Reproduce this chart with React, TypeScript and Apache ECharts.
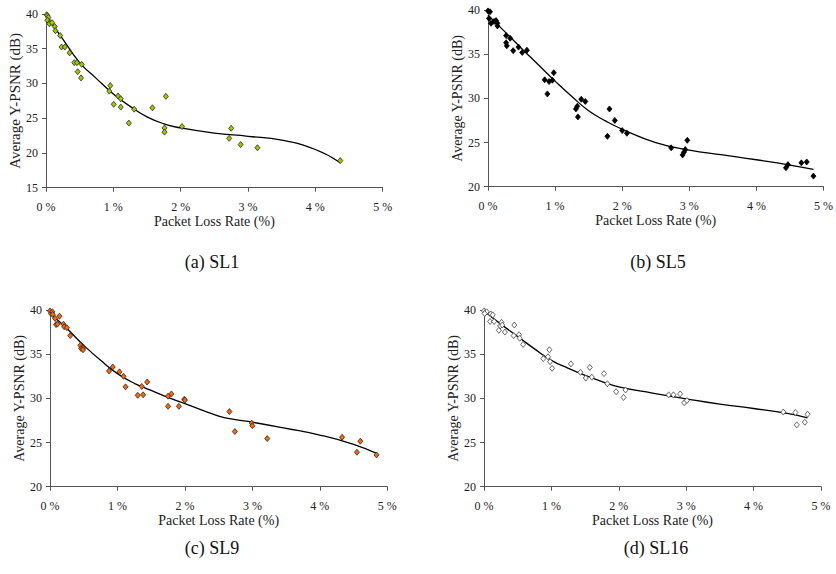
import React, { useEffect, useRef } from "react";
import * as echarts from "echarts";

// ---- data ----
const sl1Loss = [0.01, 0.02, 0.035, 0.02, 0.06, 0.05, 0.09, 0.13, 0.14, 0.21, 0.23, 0.28, 0.35, 0.42, 0.46, 0.53, 0.47, 0.52, 0.955, 0.94, 1.07, 1.11, 1.005, 1.11, 1.31, 1.23, 1.58, 1.78, 1.76, 1.76, 2.02, 2.72, 2.75, 2.89, 3.14, 4.37];
const sl1Psnr = [39.9, 39.75, 39.5, 39.1, 38.8, 38.6, 38.75, 38.2, 37.6, 36.9, 35.25, 35.25, 34.4, 33.0, 33.0, 32.75, 31.7, 30.8, 29.7, 28.9, 28.2, 27.8, 27.0, 26.6, 26.3, 24.3, 26.5, 28.15, 23.6, 23.0, 23.8, 22.1, 23.55, 21.2, 20.75, 18.9];
const sl1TrendLoss = [0, 0.25, 0.5, 0.75, 1.0, 1.25, 1.5, 1.75, 2.0, 2.5, 3.0, 3.5, 4.0, 4.37];
const sl1TrendPsnr = [39.8, 36.4, 33.0, 30.7, 28.5, 26.7, 25.2, 24.2, 23.6, 22.85, 22.4, 21.85, 20.5, 18.6];

const sl5Loss = [0, 0.03, 0.015, 0.045, 0.09, 0.12, 0.14, 0.14, 0.27, 0.27, 0.28, 0.33, 0.375, 0.455, 0.51, 0.58, 0.845, 0.91, 0.96, 0.98, 0.885, 1.31, 1.33, 1.34, 1.39, 1.45, 1.81, 1.89, 1.78, 2.0, 2.07, 2.73, 2.9, 2.92, 2.94, 2.97, 4.44, 4.47, 4.67, 4.75, 4.85];
const sl5Psnr = [39.9, 39.8, 39.05, 38.5, 38.7, 38.8, 38.5, 38.2, 37.1, 36.3, 35.95, 36.8, 35.4, 35.8, 35.2, 35.45, 32.1, 31.9, 32.05, 32.9, 30.5, 28.8, 29.1, 27.9, 29.9, 29.65, 28.8, 27.5, 25.7, 26.35, 26.05, 24.4, 23.6, 23.9, 24.2, 25.25, 22.15, 22.5, 22.7, 22.8, 21.2];
const sl5TrendLoss = [0, 0.25, 0.5, 0.75, 1.0, 1.25, 1.5, 1.75, 2.0, 2.5, 3.0, 3.5, 4.0, 4.5, 4.85];
const sl5TrendPsnr = [39.4, 37.55, 35.65, 33.8, 31.95, 30.2, 28.6, 27.45, 26.5, 25.0, 24.15, 23.6, 23.05, 22.45, 21.95];

const sl9Loss = [0, 0.015, 0.035, 0.04, 0.075, 0.09, 0.11, 0.14, 0.2, 0.21, 0.25, 0.3, 0.45, 0.46, 0.49, 0.49, 0.875, 0.93, 1.03, 1.09, 1.12, 1.3, 1.36, 1.38, 1.44, 1.75, 1.8, 1.75, 1.91, 1.99, 2.0, 2.66, 2.74, 2.99, 3.0, 3.22, 4.33, 4.55, 4.6, 4.84];
const sl9Psnr = [39.9, 39.6, 39.8, 39.5, 39.05, 38.35, 38.4, 39.3, 38.4, 38.1, 38.0, 37.1, 36.0, 35.65, 35.7, 35.5, 33.1, 33.55, 33.0, 32.5, 31.3, 30.35, 31.35, 30.4, 31.85, 30.25, 30.5, 29.1, 29.1, 29.9, 29.8, 28.5, 26.25, 27.2, 26.9, 25.45, 25.6, 23.9, 25.15, 23.6];
const sl9TrendLoss = [0, 0.25, 0.5, 0.75, 1.0, 1.25, 1.5, 1.75, 2.0, 2.5, 2.75, 3.0, 3.5, 4.0, 4.5, 4.85];
const sl9TrendPsnr = [39.6, 37.9, 36.0, 34.3, 32.8, 31.7, 30.9, 30.1, 29.4, 28.0, 27.6, 27.3, 26.6, 25.85, 24.8, 23.75];

const sl16Loss = [0, 0.02, 0.04, 0.01, 0.09, 0.1, 0.13, 0.15, 0.22, 0.24, 0.26, 0.27, 0.31, 0.44, 0.45, 0.52, 0.53, 0.58, 0.88, 0.95, 0.97, 0.98, 1.01, 1.29, 1.43, 1.51, 1.57, 1.6, 1.78, 1.83, 1.96, 2.07, 2.1, 2.74, 2.81, 2.91, 2.97, 3.01, 4.44, 4.62, 4.64, 4.76, 4.8];
const sl16Psnr = [39.9, 39.7, 39.8, 39.6, 38.7, 39.55, 39.45, 38.7, 37.7, 38.2, 38.6, 38.3, 37.5, 37.1, 38.3, 37.2, 36.8, 36.1, 34.5, 34.7, 35.5, 34.15, 33.4, 33.9, 32.95, 32.3, 33.5, 32.4, 32.8, 31.65, 30.75, 30.1, 30.95, 30.4, 30.4, 30.5, 29.5, 29.75, 28.45, 28.4, 27.0, 27.3, 28.2];
const sl16TrendLoss = [0, 0.25, 0.5, 0.75, 1.0, 1.25, 1.5, 1.75, 2.0, 2.5, 3.0, 3.5, 4.0, 4.5, 4.8];
const sl16TrendPsnr = [39.9, 38.4, 37.0, 35.6, 34.3, 33.4, 32.6, 31.9, 31.3, 30.6, 29.95, 29.35, 28.85, 28.3, 27.8];

const xTicks = [0, 1, 2, 3, 4, 5];
const captions = ["(a) SL1", "(b) SL5", "(c) SL9", "(d) SL16"];
const markerFills = ["#99cc00", "#000000", "#ff6600", "#ffffff"];
const markerBorders = ["#2a2a2a", "#000000", "#2a2a2a", "#444444"];
const yMins = [15, 20, 20, 20];

const panels = [
  { loss: sl1Loss, psnr: sl1Psnr, tl: sl1TrendLoss, tp: sl1TrendPsnr },
  { loss: sl5Loss, psnr: sl5Psnr, tl: sl5TrendLoss, tp: sl5TrendPsnr },
  { loss: sl9Loss, psnr: sl9Psnr, tl: sl9TrendLoss, tp: sl9TrendPsnr },
  { loss: sl16Loss, psnr: sl16Psnr, tl: sl16TrendLoss, tp: sl16TrendPsnr },
];

// layout (pixels)
const grids = [
  { left: 46, top: 14, width: 336.7, height: 173.7 },
  { left: 488, top: 10, width: 337.3, height: 176.7 },
  { left: 50, top: 310, width: 337.3, height: 176.7 },
  { left: 484, top: 310, width: 337, height: 176.7 },
];
const captionPos = [
  [212, 262],
  [658, 262],
  [212, 548],
  [656, 548],
];

const FONT = "Liberation Serif";

export default function App() {
  const ref = useRef<HTMLDivElement>(null);
  useEffect(() => {
    if (!ref.current) return;
    const chart = echarts.init(ref.current, undefined, { renderer: "svg" });
    const xAxis: any[] = [];
    const yAxis: any[] = [];
    const series: any[] = [];
    panels.forEach((p, i) => {
      xAxis.push({
        gridIndex: i,
        type: "value",
        min: xTicks[0],
        max: xTicks[xTicks.length - 1],
        interval: 1,
        name: "Packet Loss Rate (%)",
        nameLocation: "middle",
        nameGap: 27,
        nameTextStyle: { fontFamily: FONT, fontSize: 14, color: "#222" },
        axisLine: { lineStyle: { color: "#555", width: 1 } },
        axisTick: { show: true, length: 4, lineStyle: { color: "#555" } },
        axisLabel: {
          fontFamily: FONT,
          fontSize: 12,
          color: "#222",
          margin: 13,
          formatter: (v: number) => `${v} %`,
        },
        splitLine: { show: false },
      });
      yAxis.push({
        gridIndex: i,
        type: "value",
        min: yMins[i],
        max: 40,
        interval: 5,
        name: "Average Y-PSNR (dB)",
        nameLocation: "middle",
        nameGap: 24,
        nameRotate: 90,
        nameTextStyle: { fontFamily: FONT, fontSize: i === 0 ? 15 : 14, color: "#222" },
        axisLine: { show: true, lineStyle: { color: "#555", width: 1 } },
        axisTick: { show: true, length: 4, lineStyle: { color: "#555" } },
        axisLabel: { fontFamily: FONT, fontSize: 12, color: "#222", margin: 8 },
        splitLine: { show: false },
      });
      series.push({
        type: "line",
        xAxisIndex: i,
        yAxisIndex: i,
        data: p.tl.map((x, k) => [x, p.tp[k]]),
        smooth: 0.5,
        showSymbol: false,
        symbol: "none",
        lineStyle: { color: "#000", width: 1.3 },
        silent: true,
        z: 2,
      });
      series.push({
        type: "scatter",
        xAxisIndex: i,
        yAxisIndex: i,
        data: p.loss.map((x, k) => [x, p.psnr[k]]),
        symbol: "diamond",
        symbolSize: [5, 6],
        itemStyle: {
          color: markerFills[i],
          borderColor: markerBorders[i],
          borderWidth: 0.8,
          opacity: 1,
        },
        z: 3,
      });
    });
    chart.setOption({
      animation: false,
      backgroundColor: "#ffffff",
      grid: grids.map((g) => ({ ...g, containLabel: false })),
      xAxis,
      yAxis,
      series,
      graphic: captions.map((c, i) => ({
        type: "text",
        x: captionPos[i][0],
        y: captionPos[i][1],
        style: {
          text: c,
          fontFamily: FONT,
          fontSize: 18,
          fill: "#111",
          textAlign: "center",
          textVerticalAlign: "middle",
        },
      })),
    });
    return () => chart.dispose();
  }, []);
  return (
    <div
      ref={ref}
      style={{ position: "fixed", left: 0, top: 0, width: 836, height: 574, background: "#fff" }}
    />
  );
}
